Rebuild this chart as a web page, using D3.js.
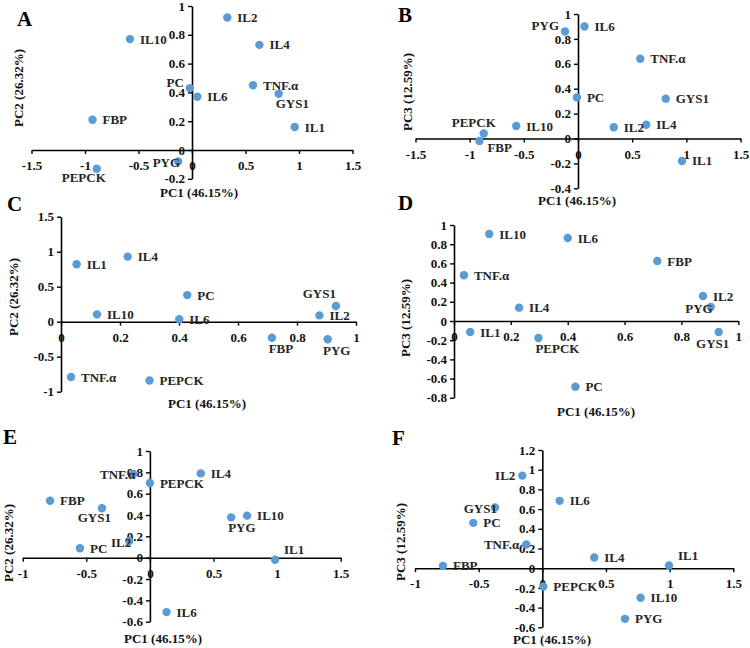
<!DOCTYPE html>
<html>
<head>
<meta charset="utf-8">
<script src="https://cdn.jsdelivr.net/npm/d3@7/dist/d3.min.js"></script>
<style>
  html, body { margin: 0; padding: 0; background: #fff; }
  svg { display: block; }
</style>
</head>
<body>
<svg id="chart" width="750" height="648"></svg>
<script>
// ---------------- DATA ----------------
const variables = ["IL1", "IL2", "IL4", "IL6", "IL10", "TNF.α", "GYS1", "FBP", "PC", "PEPCK", "PYG"];

// Panel A: PC1 vs PC2
const aPC1 = [0.96, 0.33, 0.63, 0.05, -0.58, 0.57, 0.81, -0.93, -0.02, -0.89, -0.13];
const aPC2 = [0.16, 0.92, 0.73, 0.37, 0.77, 0.45, 0.39, 0.21, 0.43, -0.13, -0.08];
// Panel B: PC1 vs PC3
const bPC1 = [0.96, 0.33, 0.63, 0.06, -0.57, 0.575, 0.81, -0.91, -0.01, -0.87, -0.12];
const bPC3 = [-0.18, 0.09, 0.11, 0.90, 0.10, 0.64, 0.32, -0.02, 0.33, 0.04, 0.86];
// Panel C: PC1 vs PC2
const cPC1 = [0.053, 0.876, 0.226, 0.401, 0.122, 0.034, 0.932, 0.715, 0.428, 0.30, 0.904];
const cPC2 = [0.82, 0.09, 0.93, 0.034, 0.105, -0.79, 0.224, -0.23, 0.38, -0.84, -0.25];
// Panel D: PC1 vs PC3
const dPC1 = [0.057, 0.876, 0.229, 0.40, 0.124, 0.035, 0.931, 0.715, 0.427, 0.297, 0.903];
const dPC3 = [-0.115, 0.26, 0.139, 0.865, 0.906, 0.476, -0.115, 0.625, -0.684, -0.177, 0.146];
// Panel E: PC1 vs PC2
const ePC1 = [0.984, -0.163, 0.40, 0.131, 0.764, -0.13, -0.377, -0.785, -0.55, 0.0, 0.639];
const ePC2 = [-0.02, 0.156, 0.79, -0.51, 0.394, 0.785, 0.463, 0.534, 0.088, 0.70, 0.378];
// Panel F: PC1 vs PC3
const fPC1 = [0.995, -0.157, 0.408, 0.136, 0.772, -0.126, -0.372, -0.78, -0.542, 0.008, 0.649];
const fPC3 = [0.027, 0.94, 0.109, 0.684, -0.30, 0.24, 0.616, 0.024, 0.46, -0.186, -0.514];

// Tick labels
const ticksX15 = [-1.5, -1, -0.5, 0, 0.5, 1, 1.5];
const ticksX01 = [0, 0.2, 0.4, 0.6, 0.8, 1];
const ticksX1015 = [-1, -0.5, 0, 0.5, 1, 1.5];
const ticksYA = [-0.2, 0, 0.2, 0.4, 0.6, 0.8, 1];
const ticksYB = [-0.4, -0.2, 0, 0.2, 0.4, 0.6, 0.8, 1];
const ticksYC = [-1, -0.5, 0, 0.5, 1, 1.5];
const ticksYD = [-0.8, -0.6, -0.4, -0.2, 0, 0.2, 0.4, 0.6, 0.8, 1];
const ticksYE = [-0.6, -0.4, -0.2, 0, 0.2, 0.4, 0.6, 0.8, 1];
const ticksYF = [-0.6, -0.4, -0.2, 0, 0.2, 0.4, 0.6, 0.8, 1, 1.2];

const titlePC1 = "PC1 (46.15%)";
const titlePC2 = "PC2 (26.32%)";
const titlePC3 = "PC3 (12.59%)";

// Label placement codes (order follows `variables`)
const placeA = ["r", "r", "r", "r", "r", "r", "br", "r", "la", "bl", "lo"];
const placeB = ["r", "r", "r", "r", "r", "r", "r", "rb", "r", "al", "la"];
const placeC = ["r", "r", "r", "r", "r", "r", "ac", "bm", "r", "r", "bm"];
const placeD = ["r", "r", "r", "r", "r", "r", "bc", "r", "r", "br", "lo"];
const placeE = ["ar", "lo", "r", "r", "r", "lo", "bl", "r", "r", "r", "br"];
const placeF = ["ar", "l", "r", "r", "r", "l", "lo", "r", "r", "r", "r"];

// ---------------- STYLE / LAYOUT ----------------
const FONT = "'Liberation Serif','Times New Roman',serif";
const DOT = "#5B9BD5";
const TXT = "#262626";
const codes = {
  r:  {a: "start",  dx: 10, dy: 0},
  l:  {a: "end",    dx: -7, dy: 0},
  lo: {a: "end",    dx: 2,  dy: 1},
  la: {a: "end",    dx: -6, dy: -6},
  al: {a: "end",    dx: 12, dy: -11},
  ac: {a: "end",    dx: 0,  dy: -13},
  bl: {a: "end",    dx: 9,  dy: 9},
  bc: {a: "middle", dx: -6, dy: 11},
  br: {a: "start",  dx: -3, dy: 10},
  bm: {a: "middle", dx: 9,  dy: 11},
  rb: {a: "start",  dx: 8,  dy: 6},
  ar: {a: "start",  dx: 9,  dy: -10}
};

const panels = [
  {letter: "A", xs: aPC1, ys: aPC2, place: placeA, xt: ticksX15, yt: ticksYA, yTitle: titlePC2,
   rect: {l: 31.5, r: 352.5, t: 6, b: 178.8}, L: [17, 26], XT: [199, 197], YT: [18, 88]},
  {letter: "B", xs: bPC1, ys: bPC3, place: placeB, xt: ticksX15, yt: ticksYB, yTitle: titlePC3,
   rect: {l: 415.5, r: 740.5, t: 14, b: 188.3}, L: [398, 22], XT: [577, 205], YT: [407, 92]},
  {letter: "C", xs: cPC1, ys: cPC2, place: placeC, xt: ticksX01, yt: ticksYC, yTitle: titlePC2,
   rect: {l: 61, r: 356, t: 216.7, b: 391.7}, L: [7, 211], XT: [207, 408], YT: [13, 297]},
  {letter: "D", xs: dPC1, ys: dPC3, place: placeD, xt: ticksX01, yt: ticksYD, yTitle: titlePC3,
   rect: {l: 454, r: 738.3, t: 225, b: 397.8}, L: [398, 210], XT: [596, 416], YT: [405, 318]},
  {letter: "E", xs: ePC1, ys: ePC2, place: placeE, xt: ticksX1015, yt: ticksYE, yTitle: titlePC2,
   rect: {l: 22.7, r: 340.7, t: 451, b: 621.7}, L: [3, 444], XT: [163, 643], YT: [8, 543]},
  {letter: "F", xs: fPC1, ys: fPC3, place: placeF, xt: ticksX1015, yt: ticksYF, yTitle: titlePC3,
   rect: {l: 415, r: 733.3, t: 450, b: 627.3}, L: [392, 445], XT: [552, 644], YT: [400, 542]}
];

const fmt = d => String(+d.toFixed(2)).replace("\u2212", "-");

const svg = d3.select("#chart");

panels.forEach(p => {
  const g = svg.append("g");
  const x = d3.scaleLinear().domain(d3.extent(p.xt)).range([p.rect.l, p.rect.r]);
  const y = d3.scaleLinear().domain(d3.extent(p.yt)).range([p.rect.b, p.rect.t]);

  // x axis at y = 0
  const gx = g.append("g").attr("transform", `translate(0,${y(0)})`)
    .call(d3.axisBottom(x).tickValues(p.xt).tickFormat(fmt).tickSize(4).tickSizeOuter(0).tickPadding(7));
  // y axis at x = 0
  const gy = g.append("g").attr("transform", `translate(${x(0)},0)`)
    .call(d3.axisLeft(y).tickValues(p.yt).tickFormat(fmt).tickSize(4).tickSizeOuter(0).tickPadding(3));

  [gx, gy].forEach(a => {
    a.select(".domain").attr("stroke", "#000").attr("stroke-width", 1.6);
    a.selectAll(".tick line").attr("stroke", "#000").attr("stroke-width", 1.4);
    a.selectAll(".tick text").attr("fill", "#111")
      .style("font-family", FONT).style("font-weight", "bold").style("font-size", "13px");
  });

  // points
  g.selectAll("circle.pt").data(variables).join("circle")
    .attr("class", "pt")
    .attr("cx", (d, i) => x(p.xs[i]))
    .attr("cy", (d, i) => y(p.ys[i]))
    .attr("r", 4.2)
    .attr("fill", DOT);

  // labels
  g.selectAll("text.lbl").data(variables).join("text")
    .attr("class", "lbl")
    .attr("x", (d, i) => x(p.xs[i]) + codes[p.place[i]].dx)
    .attr("y", (d, i) => y(p.ys[i]) + codes[p.place[i]].dy)
    .attr("dy", "0.35em")
    .attr("text-anchor", (d, i) => codes[p.place[i]].a)
    .attr("fill", TXT)
    .style("font-family", FONT).style("font-weight", "bold").style("font-size", "13px")
    .text(d => d);

  // axis titles
  g.append("text").attr("x", p.XT[0]).attr("y", p.XT[1]).attr("text-anchor", "middle")
    .attr("fill", "#111").style("font-family", FONT).style("font-weight", "bold").style("font-size", "13px")
    .text(titlePC1);
  g.append("text").attr("transform", `translate(${p.YT[0]},${p.YT[1]}) rotate(-90)`)
    .attr("text-anchor", "middle").attr("dy", "0.35em")
    .attr("fill", "#111").style("font-family", FONT).style("font-weight", "bold").style("font-size", "13px")
    .text(p.yTitle);

  // panel letter
  g.append("text").attr("x", p.L[0]).attr("y", p.L[1])
    .attr("fill", "#000").style("font-family", FONT).style("font-weight", "bold").style("font-size", "21px")
    .text(p.letter);
});
</script>
</body>
</html>
